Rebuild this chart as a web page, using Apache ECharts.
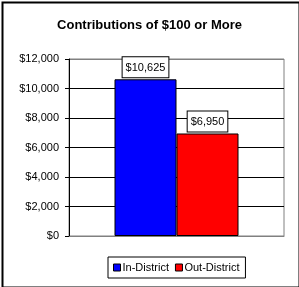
<!DOCTYPE html>
<html>
<head>
<meta charset="utf-8">
<script src="https://cdn.jsdelivr.net/npm/echarts@6/dist/echarts.min.js"></script>
<style>
  html, body { margin: 0; padding: 0; background: #fff; }
  #chart { width: 299px; height: 287px; }
</style>
</head>
<body>
<div id="chart"></div>
<script>
  // data
  const categories = [''];
  const seriesNames = ['In-District', 'Out-District'];
  const seriesValues = [[10625], [6950]];
  const seriesColors = ['#0000ff', '#ff0000'];
  const yTicks = { min: 0, max: 12000, step: 2000 };

  const money = v => '$' + v.toString().replace(/\B(?=(\d{3})+(?!\d))/g, ',');
  const font = 'Liberation Sans, Arial, sans-serif';

  const myChart = echarts.init(document.getElementById('chart'));
  let option = {
    backgroundColor: '#ffffff',
    animation: false,
    textStyle: { fontFamily: font },
    title: {
      text: 'Contributions of $100 or More',
      left: 'center',
      top: 14,
      textStyle: { fontFamily: font, fontSize: 13, fontWeight: 'bold', color: '#000' }
    },
    graphic: [{
      type: 'rect',
      left: 0, top: 0,
      shape: { width: 297, height: 285 },
      style: { fill: 'none', stroke: '#000', lineWidth: 2 },
      silent: true
    }],
    legend: {
      data: seriesNames,
      left: 108,
      top: 257,
      icon: 'rect',
      itemWidth: 7,
      itemHeight: 7,
      itemGap: 6,
      padding: [5, 6, 5, 5],
      backgroundColor: '#fff',
      borderColor: '#000',
      borderWidth: 1,
      itemStyle: { borderColor: '#000', borderWidth: 1 },
      textStyle: { fontFamily: font, fontSize: 11, color: '#000', padding: [0, 0, 0, -3] }
    },
    grid: {
      left: 69, right: 15, top: 59, bottom: 51,
      show: true, borderColor: '#808080', borderWidth: 1,
      containLabel: false
    },
    xAxis: {
      type: 'category',
      data: categories,
      axisLine: { lineStyle: { color: '#808080' } },
      axisTick: { show: false },
      axisLabel: { show: false }
    },
    yAxis: {
      type: 'value',
      min: yTicks.min, max: yTicks.max, interval: yTicks.step,
      axisLine: { show: true, lineStyle: { color: '#000' } },
      axisTick: { show: true, length: 4, lineStyle: { color: '#000' } },
      axisLabel: { formatter: money, color: '#000', fontSize: 11, fontFamily: font, margin: 10 },
      splitLine: {
        lineStyle: { color: ['#808080', '#000', '#000', '#000', '#000', '#000', '#808080'] }
      }
    },
    series: seriesNames.map((name, i) => ({
      name: name,
      type: 'bar',
      data: seriesValues[i],
      barWidth: 62,
      barGap: '0%',
      itemStyle: { color: seriesColors[i], borderColor: '#000', borderWidth: 1 },
      label: {
        show: true,
        position: 'top',
        distance: 2,
        formatter: p => money(p.value),
        color: '#000',
        fontSize: 11,
        fontFamily: font,
        backgroundColor: '#fff',
        borderColor: '#000',
        borderWidth: 1,
        padding: [5, 3, 4, 3]
      }
    }))
  };
  myChart.setOption(option);
</script>
</body>
</html>
